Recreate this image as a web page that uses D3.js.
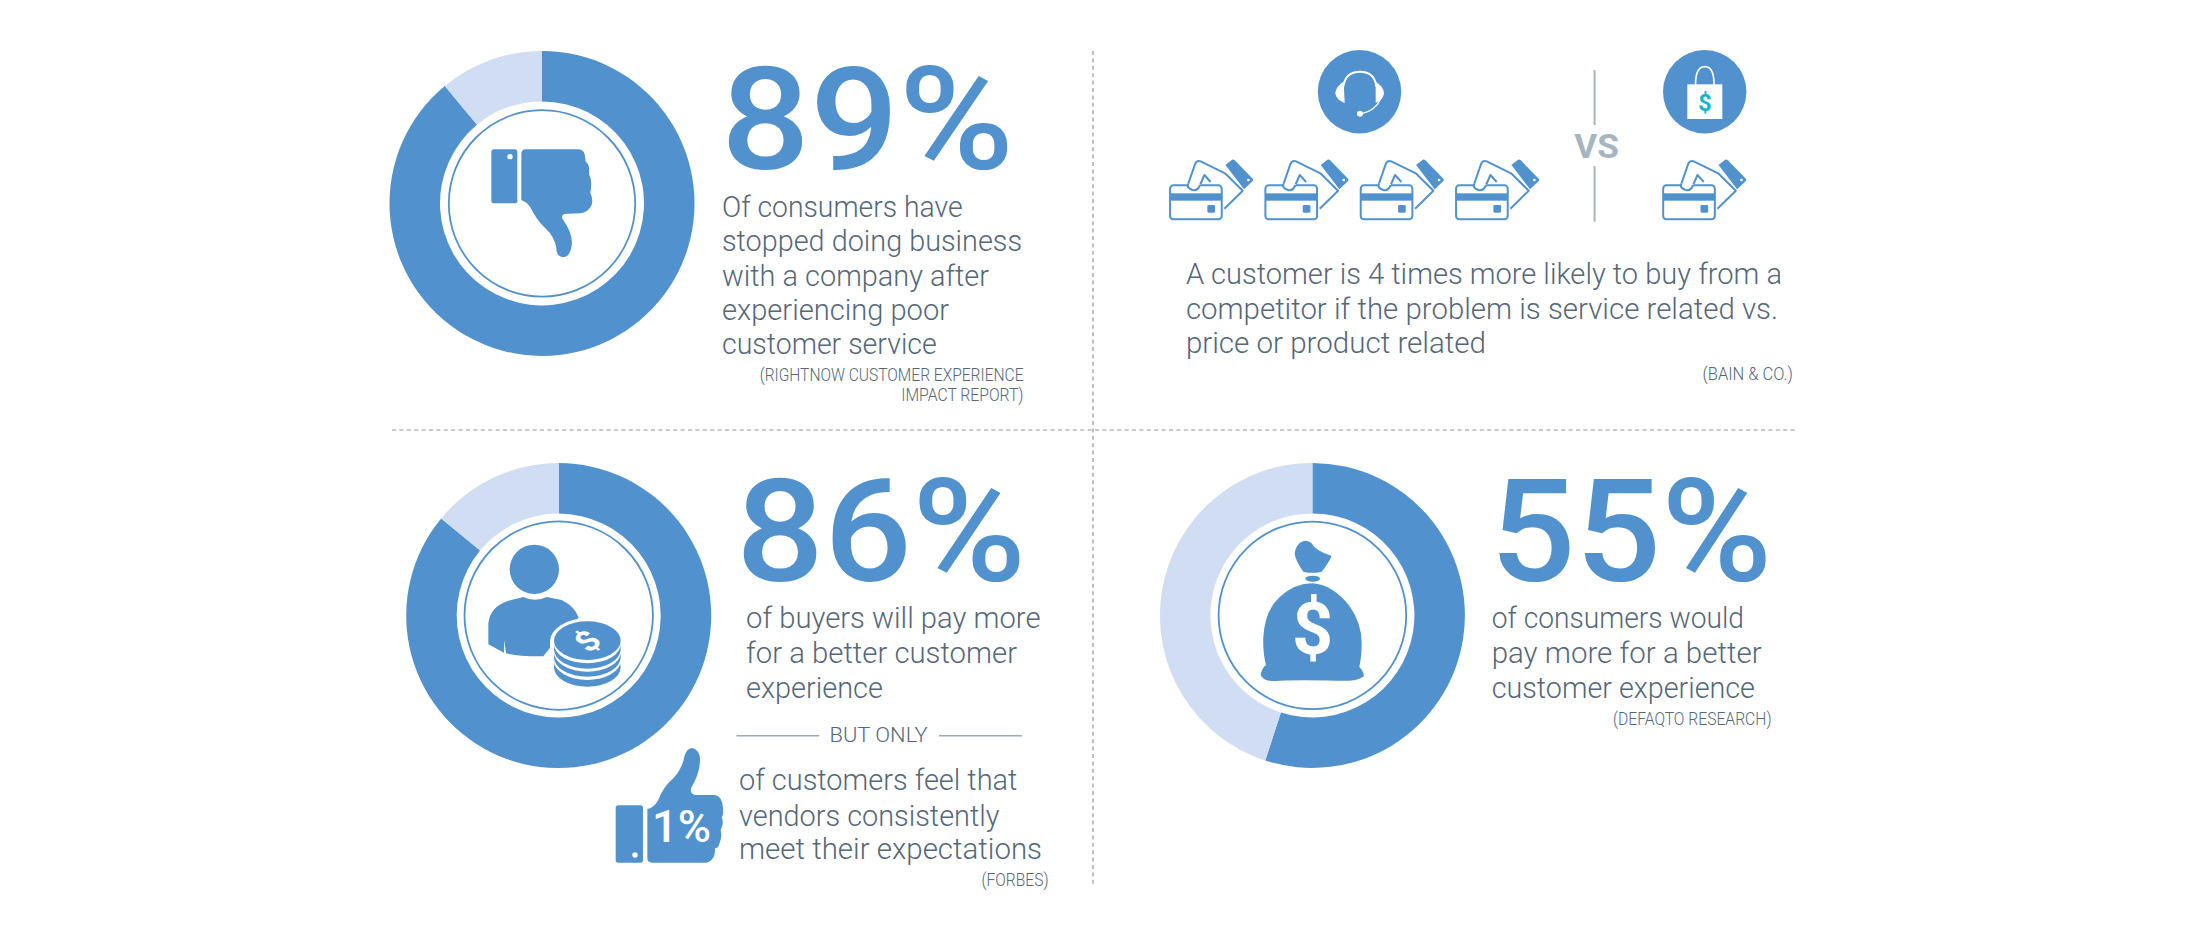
<!DOCTYPE html>
<html>
<head>
<meta charset="utf-8">
<script src="https://d3js.org/d3.v7.min.js"></script>
<style>
html,body{margin:0;padding:0;background:#fff}
svg{display:block}
text{font-family:"Roboto",sans-serif}
</style>
</head>
<body>
<svg id="c" width="2188" height="938" viewBox="0 0 2188 938"></svg>
<script>
// ---- data ----
const ringShares = [89, 86, 55];
const ringLabels = ["89%", "86%", "55%"];
const thumbStat = "1%";
const serviceCount = 4;
const priceCount = 1;
const vsLabel = "VS";
const butOnly = "BUT ONLY";
const text89 = ["Of consumers have", "stopped doing business", "with a company after", "experiencing poor", "customer service"];
const source89 = ["(RIGHTNOW CUSTOMER EXPERIENCE", "IMPACT REPORT)"];
const textVs = ["A customer is 4 times more likely to buy from a", "competitor if the problem is service related vs.", "price or product related"];
const sourceVs = ["(BAIN & CO.)"];
const text86 = ["of buyers will pay more", "for a better customer", "experience"];
const text1 = ["of customers feel that", "vendors consistently", "meet their expectations"];
const source1 = ["(FORBES)"];
const text55 = ["of consumers would", "pay more for a better", "customer experience"];
const source55 = ["(DEFAQTO RESEARCH)"];

// ---- style ----
const BLUE = "#5192ce", LIGHT = "#d0ddf2", INK = "#566778", GREY = "#a6b5bf", TEAL = "#12b5cb";
const svg = d3.select("#c");

// fitted text: placed at x/baseline and squeezed to the span measured on the reference
function put(g, x, y, s, xEnd, size, weight, fill) {
  const t = g.append("text").attr("x", x).attr("y", y).attr("font-size", size)
    .attr("font-weight", weight).attr("fill", fill).text(s);
  if (xEnd != null) t.attr("textLength", xEnd - x).attr("lengthAdjust", "spacingAndGlyphs");
  return t;
}
function block(lines, x, baselines, ends, size, weight, fill) {
  lines.forEach((s, i) => put(svg, Array.isArray(x) ? x[i] : x, baselines[i], s, ends[i], size, weight, fill));
}

// ---- dividers ----
svg.append("line").attr("x1", 392).attr("x2", 1796).attr("y1", 430).attr("y2", 430)
  .attr("stroke", "#8e98a0").attr("stroke-width", 1.2).attr("stroke-dasharray", "4 3.4");
svg.append("line").attr("x1", 1093).attr("x2", 1093).attr("y1", 51).attr("y2", 886)
  .attr("stroke", "#8e98a0").attr("stroke-width", 1.2).attr("stroke-dasharray", "4 3.4");

// ---- rings ----
const pie = d3.pie().sort(null).value(d => d);
const arc = d3.arc().innerRadius(102).outerRadius(152.5);
const ringCentres = [[542, 203.4], [558.7, 615.6], [1312.4, 615.4]];
const hairline = [93.2, 94.2, 93.8];
ringShares.forEach((v, i) => {
  const g = svg.append("g").attr("transform", `translate(${ringCentres[i]})`);
  g.selectAll("path").data(pie([v, 100 - v])).join("path")
    .attr("d", arc).attr("fill", (d, j) => j ? LIGHT : BLUE);
  g.append("circle").attr("r", hairline[i]).attr("fill", "none").attr("stroke", BLUE).attr("stroke-width", 1.8);
});

// ---- big numbers ----
const bigPos = [[721, 168.5, 1014], [736, 580.5, 1026], [1490, 580.5, 1772]];
ringLabels.forEach((s, i) => put(svg, bigPos[i][0], bigPos[i][1], s, bigPos[i][2], 143, 500, BLUE));

// ---- body copy ----
block(text89, 722, [216.7, 250.9, 285.5, 320, 354], [962.6, 1022, 989, 949, 936.7], 29, 300, INK);
block(source89, [759.7, 901.3], [381, 401], [1023.5, 1023.5], 17.5, 300, INK);
block(textVs, 1185.9, [284.3, 319, 353.3], [1782, 1778, 1486], 29, 300, INK);
block(sourceVs, 1702.6, [380], [1792.8], 17.5, 300, INK);
block(text86, 746, [628.3, 662.7, 697.7], [1040.5, 1017, 882.9], 29, 300, INK);
block(text1, 739, [790, 825.7, 859.3], [1017.4, 999.5, 1042], 29, 300, INK);
block(source1, 981.5, [886], [1048.5], 17.5, 300, INK);
block(text55, 1491.7, [628.3, 662.7, 697.7], [1744, 1761.6, 1755], 29, 300, INK);
block(source55, 1613, [725], [1771.5], 17.5, 300, INK);

// ---- BUT ONLY rule ----
put(svg, 829.6, 742.3, butOnly, 927.7, 20, 300, INK);
[[736.6, 819.2], [939, 1022]].forEach(([a, b]) =>
  svg.append("line").attr("x1", a).attr("x2", b).attr("y1", 735.7).attr("y2", 735.7)
    .attr("stroke", "#9aabb8").attr("stroke-width", 1.5));

// ---- VS ----
put(svg, 1574.3, 158, vsLabel, 1619, 33, 700, GREY);
[[70, 125], [166, 221.7]].forEach(([a, b]) =>
  svg.append("line").attr("x1", 1594.6).attr("x2", 1594.6).attr("y1", a).attr("y2", b)
    .attr("stroke", GREY).attr("stroke-width", 2));

// icon canvas: each icon is drawn in 3x crop units
const icon = (x, y) => svg.append("g").attr("transform", `translate(${x},${y}) scale(${1 / 3})`);

// ---- thumbs down ----
{
  const g = icon(480, 140);
  g.append("rect").attr("x", 34).attr("y", 28).attr("width", 78).attr("height", 162).attr("rx", 8).attr("fill", BLUE);
  g.append("circle").attr("cx", 90).attr("cy", 50).attr("r", 8).attr("fill", "#fff");
  g.append("path").attr("fill", BLUE).attr("d", "M124 42Q124 28 138 28L296 28Q318 30 316 64Q330 72 327 102Q338 120 331 158Q340 175 335 195Q325 218 300 220L252 222Q243 226 248 238Q276 275 276 310Q272 352 248 352Q230 350 229 325Q224 290 196 265Q170 240 150 200Q140 186 124 180Z");
}

// ---- person with coins ----
{
  const g = icon(480, 535);
  g.append("circle").attr("cx", 163).attr("cy", 103).attr("r", 74).attr("fill", BLUE);
  g.append("path").attr("fill", BLUE).attr("d", "M25 328L25 265Q30 215 85 197L130 186Q165 203 200 186L245 195Q285 215 296 248L240 300L190 364Q120 365 78 355L73 315L72 353Z");
  g.append("ellipse").attr("cx", 320).attr("cy", 320).attr("rx", 110).attr("ry", 70).attr("fill", "#fff");
  g.append("rect").attr("x", 210).attr("y", 320).attr("width", 220).attr("height", 80).attr("fill", "#fff");
  [[397, BLUE], [377, "#fff"], [367, BLUE], [352, "#fff"], [343, BLUE], [327, "#fff"], [317, BLUE]].forEach(([cy, f]) =>
    g.append("ellipse").attr("cx", 322).attr("cy", cy).attr("rx", 100).attr("ry", 58).attr("fill", f));
  g.append("text").attr("transform", "translate(322,318) scale(1.05,0.85) rotate(-45)")
    .attr("text-anchor", "middle").attr("dy", "0.35em").attr("font-size", 100).attr("font-weight", 700).attr("fill", "#fff").text("$");
}

// ---- thumbs up with stat ----
{
  const g = icon(605, 740);
  g.append("rect").attr("x", 32).attr("y", 196).attr("width", 82).attr("height", 172).attr("rx", 8).attr("fill", BLUE);
  g.append("circle").attr("cx", 90).attr("cy", 345).attr("r", 8).attr("fill", "#fff");
  g.append("path").attr("fill", BLUE).attr("d", "M127 207Q145 205 160 180Q175 140 205 115Q232 85 238 50Q245 24 262 24Q285 30 285 60Q285 100 258 145Q255 162 270 165L330 165Q355 170 354 210Q356 225 350 232Q358 250 347 270Q352 290 343 312Q340 325 330 325Q332 360 305 368L140 368Q127 366 127 355Z");
}
put(svg, 652, 842, thumbStat, 711, 44, 500, "#fff");

// ---- money bag ----
{
  const g = icon(1250, 530);
  g.append("path").attr("fill", BLUE).attr("d", "M150 38Q170 25 185 40Q195 62 245 78Q235 100 215 125Q185 132 160 125Q135 90 134 70Q136 50 150 38Z");
  g.append("ellipse").attr("cx", 188).attr("cy", 146).attr("rx", 22).attr("ry", 9).attr("fill", BLUE);
  g.append("path").attr("fill", BLUE).attr("d", "M188 160Q250 165 300 230Q335 280 335 340Q335 380 328 410Q345 430 340 440Q320 455 260 452Q150 450 90 452Q40 458 32 435Q35 415 48 405Q38 370 40 320Q45 240 90 200Q135 160 188 160Z");
  g.append("text").attr("x", 188).attr("y", 371).attr("text-anchor", "middle").attr("font-size", 215)
    .attr("font-weight", 700).attr("fill", "#fff").text("$");
}

// ---- headset badge ----
{
  svg.append("circle").attr("cx", 1359.5).attr("cy", 91.7).attr("r", 41.7).attr("fill", BLUE);
  const g = icon(1310, 45);
  g.append("path").attr("fill", "none").attr("stroke", "#fff").attr("stroke-width", 6).attr("d", "M100 125Q106 80 150 80Q194 80 199 125");
  g.append("path").attr("fill", "#fff").attr("d", "M101 110Q76 125 76 145Q78 165 104 174Z");
  g.append("path").attr("fill", "#fff").attr("d", "M197 110Q222 125 222 145Q221 162 197 174Z");
  g.append("path").attr("fill", "none").attr("stroke", "#fff").attr("stroke-width", 4).attr("d", "M212 162Q195 198 155 206");
  g.append("circle").attr("cx", 150).attr("cy", 206).attr("r", 9).attr("fill", "#fff");
}

// ---- shopping bag badge ----
{
  svg.append("circle").attr("cx", 1704.7).attr("cy", 91.7).attr("r", 41.7).attr("fill", BLUE);
  const g = icon(1655, 45);
  g.append("rect").attr("x", 97).attr("y", 118).attr("width", 105).attr("height", 104).attr("fill", "#fff");
  g.append("path").attr("fill", "none").attr("stroke", "#fff").attr("stroke-width", 5).attr("d", "M122 132Q118 65 150 65Q180 65 177 132");
  g.append("text").attr("x", 150).attr("y", 198).attr("text-anchor", "middle").attr("font-size", 70)
    .attr("font-weight", 700).attr("fill", TEAL).text("$");
}

// ---- credit-card hands: one per purchase-likelihood unit ----
function cardHand(x0) {
  const g = icon(x0 - 28 / 3, 150);
  g.append("path").attr("fill", "none").attr("stroke", BLUE).attr("stroke-width", 6).attr("stroke-linejoin", "round")
    .attr("d", "M85 100L105 42Q110 30 122 34L195 70L248 122L193 176");
  g.append("path").attr("fill", "none").attr("stroke", BLUE).attr("stroke-width", 6).attr("stroke-linejoin", "round")
    .attr("d", "M120 105L133 75L152 96");
  g.append("rect").attr("x", 30).attr("y", 106).attr("width", 155).attr("height", 102).attr("rx", 10)
    .attr("fill", "#fff").attr("stroke", BLUE).attr("stroke-width", 6);
  g.append("path").attr("fill", "#fff").attr("d", "M84 102L121 102L119 118Q100 126 86 116Z");
  g.append("path").attr("fill", "none").attr("stroke", BLUE).attr("stroke-width", 6).attr("d", "M85 100Q78 114 98 120Q112 124 120 105");
  g.append("rect").attr("x", 30).attr("y", 130).attr("width", 155).attr("height", 22).attr("fill", BLUE);
  g.append("rect").attr("x", 142).attr("y", 165).attr("width", 23).attr("height", 23).attr("rx", 4).attr("fill", BLUE);
  g.append("path").attr("fill", BLUE).attr("d", "M196 45L216 29Q220 27 224 31L278 86Q281 90 278 93L252 118Z");
  g.append("circle").attr("cx", 265).attr("cy", 90).attr("r", 4).attr("fill", "#fff");
}
const cardScale = d3.scaleLinear().domain([0, serviceCount - 1]).range([1169.4, 1455.4]);
d3.range(serviceCount).forEach(i => cardHand(cardScale(i)));
d3.range(priceCount).forEach(() => cardHand(1662.5));
</script>
</body>
</html>
